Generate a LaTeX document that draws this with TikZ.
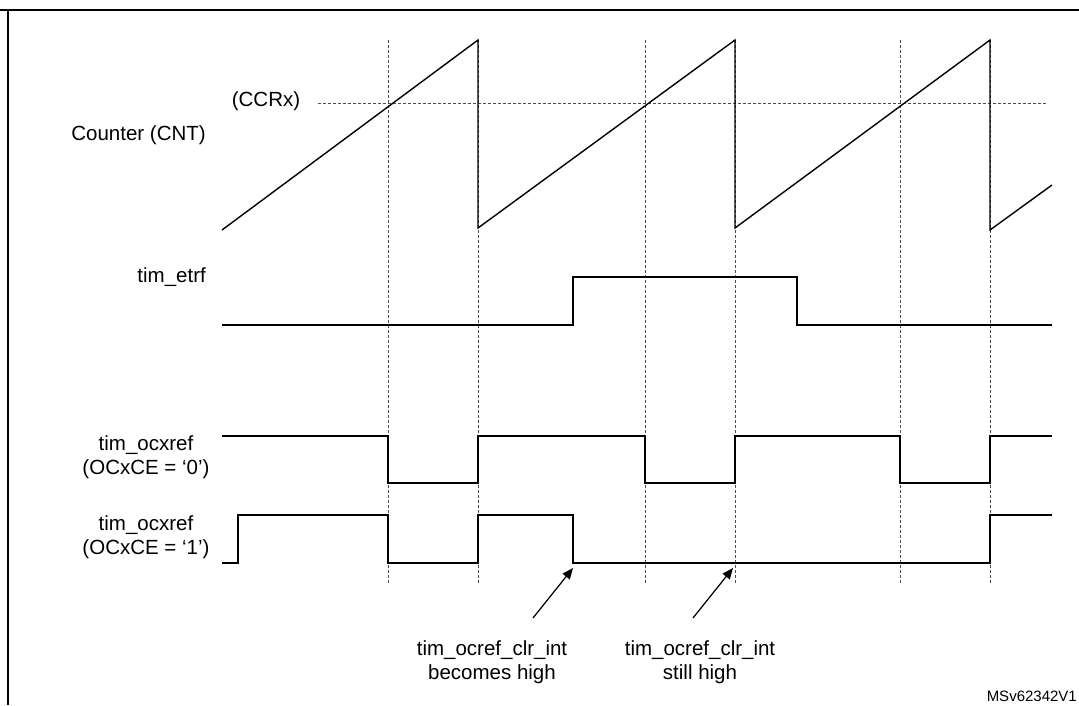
\documentclass[tikz,border=0pt]{standalone}
\usepackage{fontspec}
\setmainfont{Liberation Sans}
\usetikzlibrary{arrows.meta}
\begin{document}
\begin{tikzpicture}[x=1pt,y=-1pt,
  sig/.style={line width=1.4pt},
  guide/.style={line width=0.7pt,gray!60!black,dash pattern=on 3pt off 2pt},
  lbl/.style={font=\fontsize{20.5}{24}\selectfont,align=center,inner sep=0pt},
  pointer/.style={line width=1.2pt,-{Triangle[length=11pt,width=9pt]}}]
\useasboundingbox (0,0) rectangle (1079,705);
\clip (0,0) rectangle (1079,705);
\draw[line width=1.6pt] (0,10) -- (1079,10);
\draw[line width=1.6pt] (8,10) -- (8,705);
% guides
\foreach \x in {388,478,645,735,900,990} \draw[guide] (\x,40) -- (\x,583);
\draw[guide] (318,103) -- (1047,103);
% counter
\draw[sig] (222,230) -- (478,40) -- (478,228) -- (735,40) -- (735,228) -- (990,40) -- (990,230) -- (1052,185);
% etrf
\draw[sig] (222,325) -- (573,325) -- (573,277) -- (797,277) -- (797,325) -- (1052,325);
% ocxref 0
\draw[sig] (222,436) -- (388,436) -- (388,483) -- (478,483) -- (478,436) -- (645,436) -- (645,483) -- (735,483) -- (735,436) -- (900,436) -- (900,483) -- (990,483) -- (990,436) -- (1052,436);
% ocxref 1
\draw[sig] (222,563) -- (238,563) -- (238,515) -- (388,515) -- (388,563) -- (478,563) -- (478,515) -- (573,515) -- (573,563) -- (990,563) -- (990,515) -- (1052,515);
% labels
\node[lbl,anchor=east] (cnt) at (206,135) {Counter (CNT)};
\node[lbl] (ccr) at (266,101) {(CCRx)};
\node[lbl,anchor=east] (etrf) at (206,277) {tim\_etrf};
\node[lbl] (oc0) at (146,457) {tim\_ocxref\\(OCxCE = ‘0’)};
\node[lbl] (oc1) at (146,537) {tim\_ocxref\\(OCxCE = ‘1’)};
\node[lbl] (n1) at (492,662) {tim\_ocref\_clr\_int\\becomes high};
\node[lbl] (n2) at (700,662) {tim\_ocref\_clr\_int\\still high};
\coordinate (t1) at (573,568);
\coordinate (t2) at (733,568);
\coordinate (s1) at (533,618);
\coordinate (s2) at (693,618);
\draw[pointer] (s1) -- (t1);
\draw[pointer] (s2) -- (t2);
\node[font=\fontsize{15}{17}\selectfont,anchor=east,inner sep=0pt] (id) at (1077,696) {MSv62342V1};
\end{tikzpicture}
\end{document}
